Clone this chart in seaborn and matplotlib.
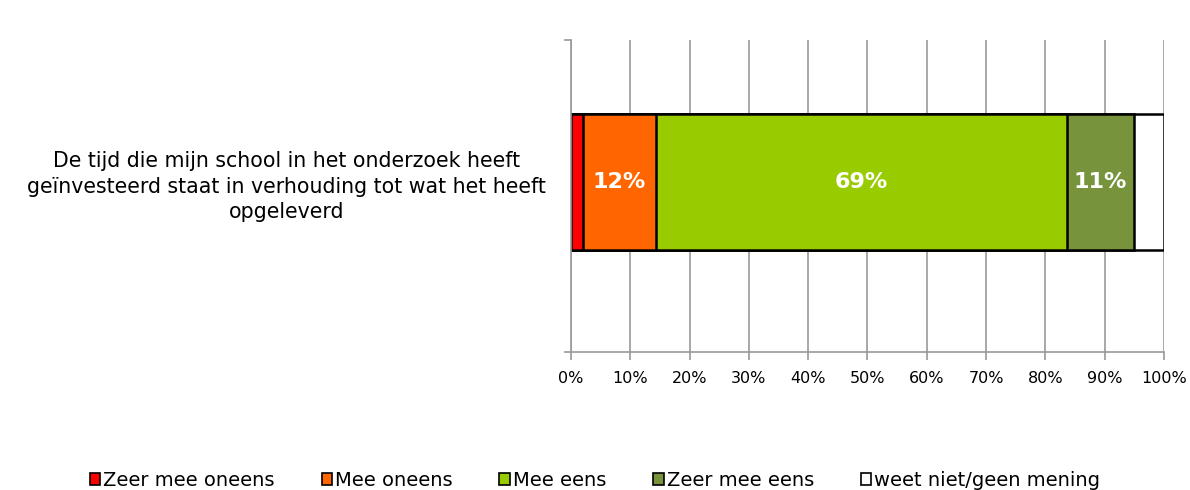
import numpy as np
import pandas as pd
import matplotlib
matplotlib.use("Agg")
import matplotlib.pyplot as plt
import matplotlib.patches as mpatches
import seaborn as sns

# data
question = ("De tijd die mijn school in het onderzoek heeft\n"
            "geïnvesteerd staat in verhouding tot wat het heeft\n"
            "opgeleverd")
categories = ["Zeer mee oneens", "Mee oneens", "Mee eens", "Zeer mee eens", "weet niet/geen mening"]
values = [2.0, 12.3, 69.3, 11.4, 5.0]
colors = ["#ff0000", "#ff6600", "#99cc00", "#77933c", "#ffffff"]
tick_values = list(range(0, 101, 10))

sns.set_style("white")
plt.rcParams["font.family"] = ["DejaVu Sans"]
plt.rcParams["text.color"] = "black"
plt.rcParams["xtick.labelcolor"] = "black"
plt.rcParams["ytick.labelcolor"] = "black"

fig = plt.figure(figsize=(11.9, 4.9), dpi=100)
ax = fig.add_axes([0.4798, 0.2816, 0.4983, 0.6367])

grey = "#999999"
ax.set_axisbelow(True)
ax.grid(axis="x", color=grey, linewidth=1.2)

cum = np.cumsum(values)
# stacked bars: draw cumulative totals from the back to the front
for i in reversed(range(len(values))):
    df = pd.DataFrame({"pct": [cum[i]], "vraag": [question]})
    sns.barplot(data=df, x="pct", y="vraag", orient="h", color=colors[i],
                saturation=1, edgecolor="black", linewidth=1.8, width=0.436, ax=ax)

# value labels
for i, v in enumerate(values):
    if v >= 10:
        ax.text(cum[i] - v / 2, 0, f"{round(v)}%", ha="center", va="center",
                color="white", fontsize=16, fontweight="bold")

ylo, yhi = -0.455, 0.545
ax.set_xlim(0, 100)
ax.set_ylim(yhi, ylo)
ax.set_xticks(tick_values)
ax.set_xticklabels([f"{t}%" for t in tick_values], fontsize=11.5)
ax.set_xlabel("")
ax.set_ylabel("")
ax.tick_params(axis="x", direction="out", length=6, color=grey, width=1.2, pad=8, bottom=True)
ax.tick_params(axis="y", which="major", length=0, pad=18, labelsize=14.8)
ax.set_yticks([ylo, yhi], minor=True)
ax.tick_params(axis="y", which="minor", direction="out", length=5, color=grey, width=1.2, left=True)
for lbl in ax.get_yticklabels():
    lbl.set_multialignment("center")
    lbl.set_linespacing(1.35)

for s in ["top", "right"]:
    ax.spines[s].set_visible(False)
for s in ["left", "bottom"]:
    ax.spines[s].set_color(grey)
    ax.spines[s].set_linewidth(1.2)

handles = [mpatches.Patch(facecolor=c, edgecolor="black", linewidth=1.2) for c in colors]
fig.legend(handles, categories, loc="lower center", bbox_to_anchor=(0.5, -0.035), ncol=5,
           frameon=False, fontsize=14, handlelength=0.55, handleheight=0.55,
           handletextpad=0.15, columnspacing=2.4)

fig.savefig("out.png", dpi=100)
